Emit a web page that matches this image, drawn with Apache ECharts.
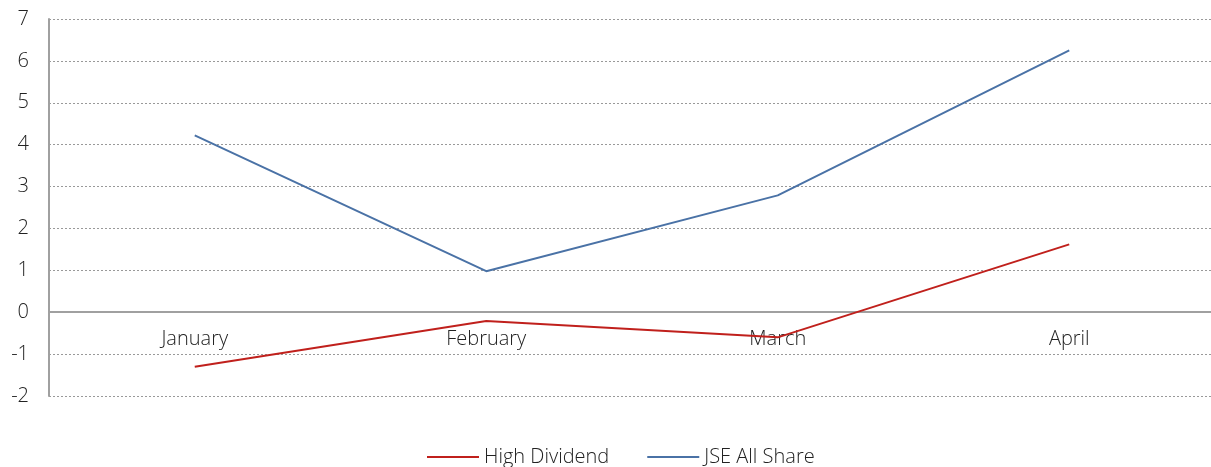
<!DOCTYPE html>
<html lang="en">
<head>
    <meta charset="UTF-8">
    <title>High Dividend vs JSE All Share</title>
    <script src="https://cdn.jsdelivr.net/npm/echarts@6/dist/echarts.min.js"></script>
    <style>
        html, body { margin: 0; padding: 0; background: #fff; }
    </style>
</head>
<body>
    <div id="chart" style="width:1211px;height:467px;"></div>
    <script>
        var months = ['January', 'February', 'March', 'April'];
        var highDividend = [-1.3, -0.21, -0.6, 1.62];
        var jseAllShare = [4.22, 0.98, 2.79, 6.25];
        var yTicks = [-2, -1, 0, 1, 2, 3, 4, 5, 6, 7];

        var chart = echarts.init(document.getElementById('chart'));

        // label font: wide, light
        var font = 'Open Sans';

        var option = {
            animation: false,
            textStyle: { fontFamily: font },
            grid: { left: 49, right: -4, top: 19, height: 377, outerBoundsMode: 'none' },
            legend: {
                top: 442,
                left: 422,
                itemWidth: 52,
                itemHeight: 2,
                itemGap: 38,
                icon: 'rect',
                textStyle: { fontSize: 20, color: '#222', fontFamily: font, fontWeight: 300 },
                data: ['High Dividend', 'JSE All Share']
            },
            xAxis: {
                type: 'category',
                data: months,
                boundaryGap: true,
                offset: -84,
                axisLine: { onZero: false, lineStyle: { color: '#a0a0a0', width: 2 } },
                axisTick: { show: false },
                axisLabel: { color: '#222', fontSize: 20, margin: 17, fontWeight: 300 }
            },
            yAxis: {
                type: 'value',
                min: yTicks[0],
                max: yTicks[yTicks.length - 1],
                interval: 1,
                axisLine: { show: true, lineStyle: { color: '#a0a0a0', width: 2 } },
                axisTick: { show: false },
                axisLabel: { color: '#222', fontSize: 20, margin: 20, fontWeight: 300 },
                splitLine: { show: true, lineStyle: { color: '#999', type: [2, 2], width: 1 } }
            },
            series: [
                {
                    name: 'High Dividend',
                    type: 'line',
                    data: highDividend,
                    symbol: 'none',
                    color: '#c0201c',
                    lineStyle: { width: 2, color: '#c0201c' }
                },
                {
                    name: 'JSE All Share',
                    type: 'line',
                    data: jseAllShare,
                    symbol: 'none',
                    color: '#4a72a6',
                    lineStyle: { width: 2, color: '#4a72a6' }
                }
            ]
        };

        chart.setOption(option);
    </script>
</body>
</html>
